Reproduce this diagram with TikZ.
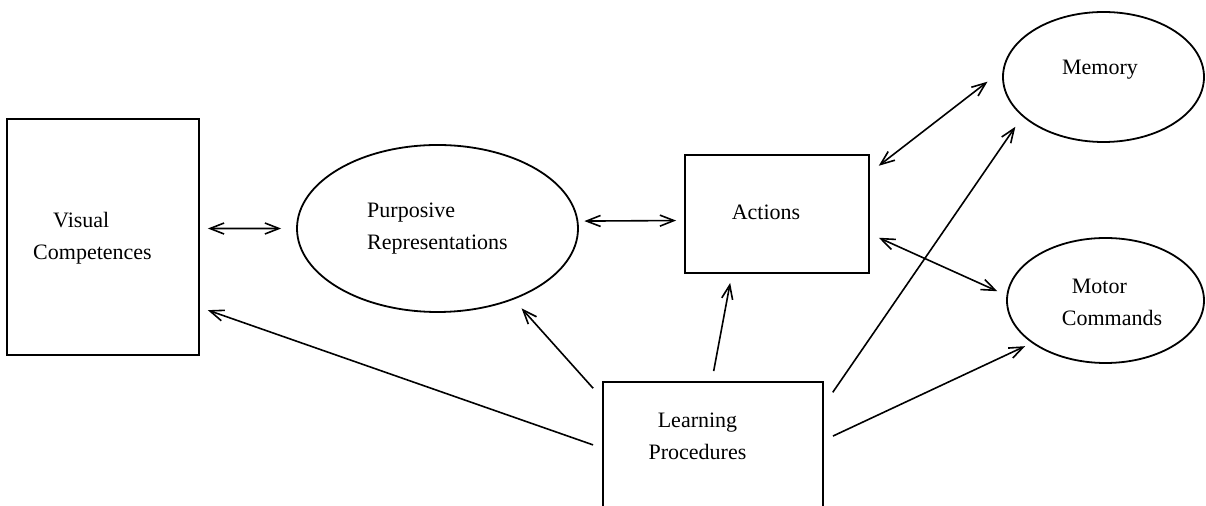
\documentclass[tikz,border=0pt]{standalone}
\usepackage{fontspec}
\setmainfont{Liberation Serif}
\usetikzlibrary{arrows.meta,shapes.geometric}

\begin{document}
\begin{tikzpicture}[x=0.5pt,y=-0.5pt,>={Straight Barb[length=7pt,width=5.5pt]},
                    every node/.style={font=\fontsize{11}{16}\selectfont},
                    box/.style={draw,line width=0.9pt,inner sep=0pt},
                    oval/.style={draw,ellipse,line width=0.9pt,inner sep=0pt},
                    link/.style={line width=0.8pt}]
                        \useasboundingbox (0,0) rectangle (1206,506);
                        \clip (0,0) rectangle (1206,506);
                        \node[box,minimum width=96pt,minimum height=118pt,
                              label={[name=vctext,align=left,xshift=-5.25pt,yshift=-0.75pt]center:\hspace*{10pt}Visual\\Competences}] (vc) at (103,237) {};
                        \node[oval,minimum width=140.5pt,minimum height=83.5pt,align=left] (pr) at (437.5,228.5) {Purposive\\Representations};
                        \node[box,minimum width=92pt,minimum height=59pt,
                              label={[name=actext,xshift=-5.5pt,yshift=1pt]center:Actions}] (ac) at (777,214) {};
                        \node[oval,minimum width=100.5pt,minimum height=65pt,
                              label={[name=memtext,xshift=-1.75pt,yshift=3.5pt]center:Memory}] (mem) at (1103.5,77) {};
                        \node[oval,minimum width=98.5pt,minimum height=62.5pt,
                              label={[name=mctext,align=left,xshift=3.25pt,yshift=-0.75pt]center:\hspace*{5pt}Motor\\Commands}] (mc) at (1105.5,300.5) {};
                        \node[box,minimum width=110pt,minimum height=68pt,
                              label={[name=lptext,align=center,xshift=-7.75pt,yshift=6.75pt]center:Learning\\Procedures}] (lp) at (713,450) {};
                        \draw[link,<->,shorten <=4pt,shorten >=7.5pt] (vc.5.4) -- (pr.west);
                        \draw[link,<->,shorten <=3pt,shorten >=4pt] (pr.3.9) -- (ac.-176.9);
                        \draw[link,<->,shorten <=5.6pt,shorten >=9.6pt] (ac.24.7) -- (mem.176.9);
                        \draw[link,<->,shorten <=4.9pt,shorten >=5pt] (ac.-12.3) -- (mc.177.4);
                        \draw[link,->,shorten <=4.8pt,shorten >=4.2pt] (lp.179) -- (vc.-36.2);
                        \draw[link,->,shorten <=6.7pt,shorten >=5.9pt] (lp.155.6) -- (pr.-43.5);
                        \draw[link,->,shorten <=5.1pt,shorten >=4.6pt] (lp.91.6) -- (ac.-127.5);
                        \draw[link,->,shorten <=7.8pt,shorten >=6.2pt] (lp.22.8) -- (mem.206.7);
                        \draw[link,->,shorten <=5pt,shorten >=3.7pt] (lp.5.1) -- (mc.-150.7);
                    \end{tikzpicture}
\end{document}
